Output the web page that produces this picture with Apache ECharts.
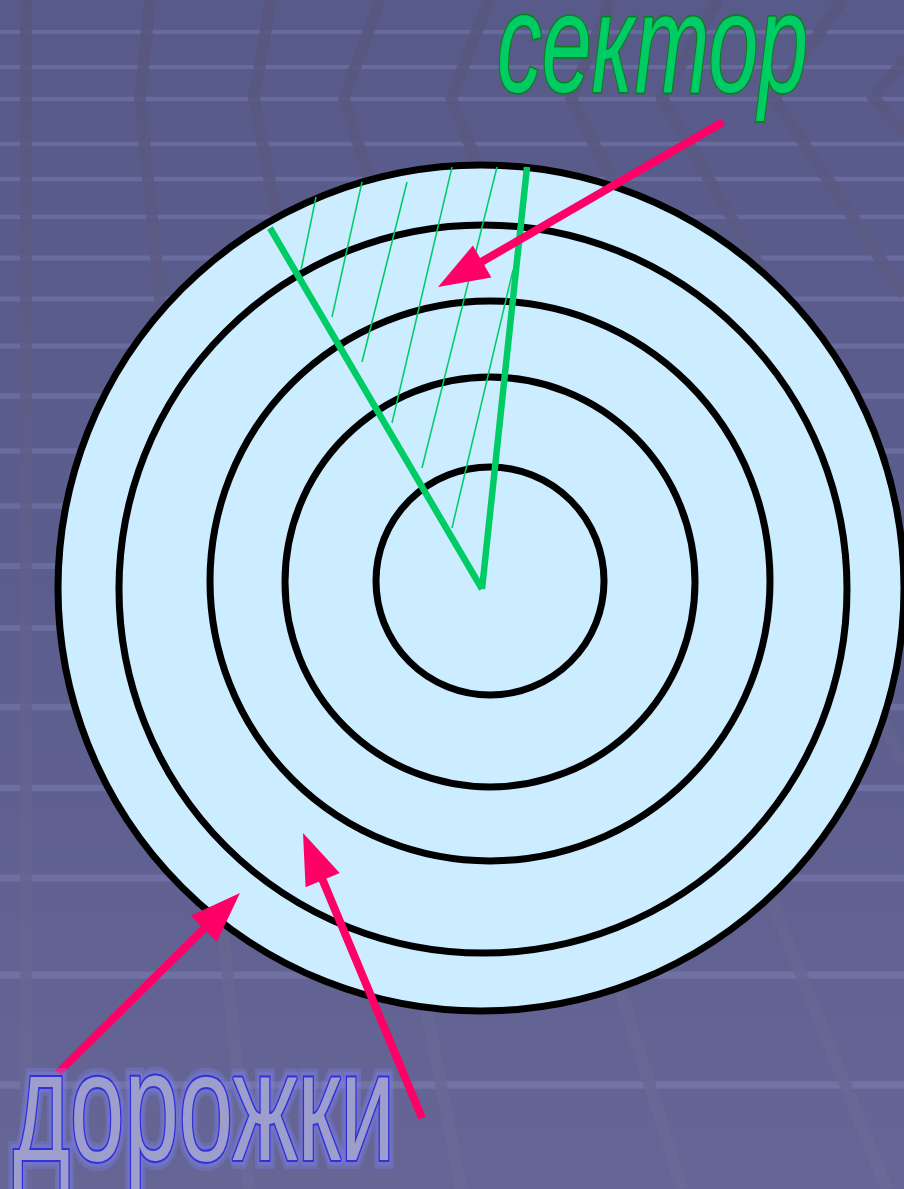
<!DOCTYPE html>
<html>
<head>
<meta charset="utf-8">
<script src="https://cdn.jsdelivr.net/npm/echarts@6/dist/echarts.min.js"></script>
<style>
html, body { margin: 0; padding: 0; }
#chart { width: 904px; height: 1189px; }
</style>
</head>
<body>
<div id="chart"></div>
<script>
// tracks (дорожки): centre x, centre y, radius
const trackX = [481, 483, 490, 490, 490];
const trackY = [588, 589, 581, 582, 581];
const trackR = [423, 364, 280, 205, 114];

// sector (сектор): apex and the ends of its two edges
const sectorApex = [482, 589];
const sectorEnds = [[270, 228], [527, 167]];
// hatching inside the sector
const hatchFrom = [[316, 197], [362, 182], [407, 182], [452, 167], [497, 167], [513, 270]];
const hatchTo = [[301, 270], [332, 317], [362, 362], [392, 423], [422, 468], [452, 528]];

// pointers, tail -> tip
const arrowTail = [[723, 122], [58, 1073], [422, 1118]];
const arrowTip = [[438, 287], [240, 893], [303, 833]];

// captions
const labels = ['сектор', 'дорожки'];
const labelAt = [[497, 91], [13, 1159]];
const labelWidth = [311, 382];

// backdrop floor grid
const rowY = [32, 67, 99, 144, 179, 217, 258, 299, 346, 396, 451, 506, 566, 628, 707, 788, 878, 975, 1085];
const stripeTop = [[26, 0], [150, 0], [271, 0], [380, 0], [489, 0], [611, 0], [718, 0], [842, 0], [954, 0]];
const stripeKink = [[26, 98], [140, 98], [254, 98], [344, 98], [451, 98], [571, 98], [662, 98], [774, 98], [874, 98]];
const stripeEnd = [[26, 1189], [249, 1189], [461, 1189], [682, 1189], [887, 1189], [904, 764], [904, 515], [904, 295], [904, 134]];

const measure = document.createElement('canvas').getContext('2d');

const labelStyle = [
    { size: 141, font: 'italic 141px "Liberation Sans", Arial, sans-serif', fill: '#00CC66', stroke: '#0B7F1C', lineWidth: 3.4, glow: null },
    { size: 156, font: '156px "Liberation Sans", Arial, sans-serif', fill: '#9D9ECB', stroke: '#3030DC', lineWidth: 4, glow: 'rgba(128,132,245,0.28)' }
];

function segSeries(from, to, style, z) {
    return {
        type: 'custom',
        coordinateSystem: 'cartesian2d',
        silent: true,
        z: z,
        data: from.map((p, i) => [p[0], p[1], to[i][0], to[i][1]]),
        renderItem: function (params, api) {
            const a = api.coord([api.value(0), api.value(1)]);
            const b = api.coord([api.value(2), api.value(3)]);
            return {
                type: 'line',
                shape: { x1: a[0], y1: a[1], x2: b[0], y2: b[1] },
                style: style
            };
        }
    };
}

const rowSeries = {
    type: 'custom',
    coordinateSystem: 'cartesian2d',
    silent: true,
    z: 1,
    data: rowY.map(y => [0, y, 904, y]),
    renderItem: function (params, api) {
        const a = api.coord([api.value(0), api.value(1)]);
        const b = api.coord([api.value(2), api.value(3)]);
        return {
            type: 'line',
            shape: { x1: a[0], y1: a[1], x2: b[0], y2: b[1] },
            style: { stroke: 'rgba(170,172,230,0.2)', lineWidth: 4 + a[1] / 300 }
        };
    }
};

const stripeSeries = {
    type: 'custom',
    coordinateSystem: 'cartesian2d',
    silent: true,
    z: 2,
    data: stripeTop.map((p, i) => [p[0], p[1], stripeKink[i][0], stripeKink[i][1], stripeEnd[i][0], stripeEnd[i][1]]),
    renderItem: function (params, api) {
        const pts = [0, 2, 4].map(k => api.coord([api.value(k), api.value(k + 1)]));
        return {
            type: 'polyline',
            shape: { points: pts },
            style: {
                fill: null,
                lineWidth: 12,
                stroke: {
                    type: 'linear', x: 0, y: 0, x2: 0, y2: 1189, global: true,
                    colorStops: [
                        { offset: 0, color: 'rgba(86,86,126,0.85)' },
                        { offset: 1, color: 'rgba(106,106,152,0.85)' }
                    ]
                }
            }
        };
    }
};

const trackSeries = {
    type: 'custom',
    coordinateSystem: 'cartesian2d',
    silent: true,
    z: 3,
    data: trackR.map((r, i) => [trackX[i], trackY[i], r]),
    renderItem: function (params, api) {
        const c = api.coord([api.value(0), api.value(1)]);
        const e = api.coord([api.value(0) + api.value(2), api.value(1)]);
        return {
            type: 'circle',
            shape: { cx: c[0], cy: c[1], r: e[0] - c[0] },
            style: { fill: '#CCECFF', stroke: '#000', lineWidth: 7 }
        };
    }
};

const arrowSeries = {
    type: 'custom',
    coordinateSystem: 'cartesian2d',
    silent: true,
    z: 6,
    data: arrowTail.map((p, i) => [p[0], p[1], arrowTip[i][0], arrowTip[i][1]]),
    renderItem: function (params, api) {
        const t = api.coord([api.value(0), api.value(1)]);
        const h = api.coord([api.value(2), api.value(3)]);
        const dx = h[0] - t[0], dy = h[1] - t[1];
        const len = Math.sqrt(dx * dx + dy * dy);
        const ux = dx / len, uy = dy / len;
        const bx = h[0] - ux * 51, by = h[1] - uy * 51;
        return {
            type: 'group',
            children: [
                {
                    type: 'line',
                    shape: { x1: t[0], y1: t[1], x2: bx + ux * 4, y2: by + uy * 4 },
                    style: { stroke: '#FF0066', lineWidth: 8 }
                },
                {
                    type: 'polygon',
                    shape: { points: [[h[0], h[1]], [bx - uy * 18.5, by + ux * 18.5], [bx + uy * 18.5, by - ux * 18.5]] },
                    style: { fill: '#FF0066' }
                }
            ]
        };
    }
};

const labelSeries = {
    type: 'custom',
    coordinateSystem: 'cartesian2d',
    silent: true,
    z: 8,
    data: labelAt.map(p => [p[0], p[1]]),
    renderItem: function (params, api) {
        const i = params.dataIndex;
        const st = labelStyle[i];
        const p = api.coord([api.value(0), api.value(1)]);
        measure.font = st.font;
        const sx = labelWidth[i] / measure.measureText(labels[i]).width;
        const base = {
            type: 'text',
            x: p[0],
            y: p[1] - st.size * 0.27,
            scaleX: sx,
            style: {
                text: labels[i], x: 0, y: 0, font: st.font,
                align: 'left', verticalAlign: 'middle'
            }
        };
        const children = [];
        if (st.glow) {
            [18, 11].forEach(w => {
                children.push(Object.assign({}, base, {
                    style: Object.assign({}, base.style, { fill: 'transparent', stroke: st.glow, lineWidth: w, lineJoin: 'round' })
                }));
            });
        }
        children.push(Object.assign({}, base, {
            style: Object.assign({}, base.style, { fill: st.fill, stroke: st.stroke, lineWidth: st.lineWidth })
        }));
        return { type: 'group', children: children };
    }
};

const chart = echarts.init(document.getElementById('chart'));
chart.setOption({
    animation: false,
    backgroundColor: {
        type: 'linear', x: 0, y: 0, x2: 0, y2: 1,
        colorStops: [
            { offset: 0, color: '#585A8A' },
            { offset: 0.5, color: '#5B5D8D' },
            { offset: 1, color: '#666696' }
        ]
    },
    grid: { left: 0, right: 0, top: 0, bottom: 0 },
    xAxis: { type: 'value', min: 0, max: 904, show: false },
    yAxis: { type: 'value', min: 0, max: 1189, inverse: true, show: false },
    series: [
        rowSeries,
        stripeSeries,
        trackSeries,
        segSeries(hatchFrom, hatchTo, { stroke: '#00CC66', lineWidth: 1.5 }, 4),
        segSeries(sectorEnds, sectorEnds.map(() => sectorApex), { stroke: '#00CC66', lineWidth: 6.5, lineCap: 'butt' }, 5),
        arrowSeries,
        labelSeries
    ]
});
</script>
</body>
</html>
